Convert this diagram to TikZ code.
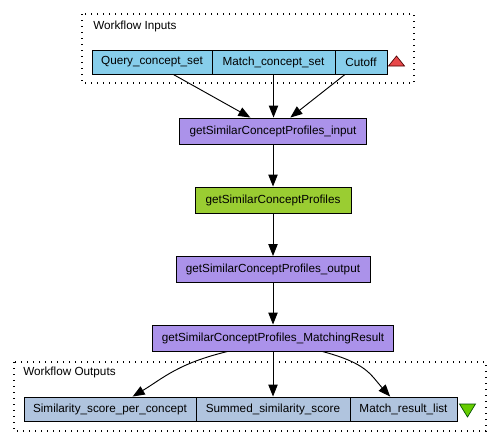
\documentclass[tikz,border=0pt]{standalone}
\usepackage{fontspec}
\setmainfont{Liberation Sans}
\usetikzlibrary{arrows.meta}

\definecolor{inportcol}{HTML}{87CEEB}
\definecolor{outportcol}{HTML}{B0C4DE}
\definecolor{splittercol}{HTML}{AB92EA}
\definecolor{wsdlcol}{HTML}{9ACD32}
\definecolor{uptri}{HTML}{E8484A}
\definecolor{downtri}{HTML}{66CD00}

\tikzset{
  box/.style={draw=black, line width=0.7pt, inner sep=0pt, minimum height=18pt, font=\fontsize{8.8}{10}\selectfont},
  inport/.style={box, fill=inportcol},
  outport/.style={box, fill=outportcol},
  splitter/.style={box, fill=splittercol, minimum height=19.5pt},
  wsdl/.style={box, fill=wsdlcol, minimum height=19.5pt},
  portgroup/.style={draw=black, line width=0.9pt, dash pattern=on 1.1pt off 3.4pt},
  flow/.style={draw=black, line width=0.7pt, -{Triangle[length=9pt,width=7pt]}}
}

\begin{document}
\begin{tikzpicture}[x=0.75pt,y=0.75pt,yscale=-1,xscale=1]
\useasboundingbox (0,0) rectangle (500,446);

%Workflow inputs
\draw [portgroup] (82,14) rectangle (414,83);
\node [anchor=west, inner sep=0pt, font=\fontsize{8.8}{10}\selectfont] (inlabel) at (93,26) {Workflow Inputs};
\node [inport, minimum width=90pt] (qset) at (152,62) {Query\_concept\_set};
\node [inport, minimum width=92.25pt] (mset) at (273.5,62) {Match\_concept\_set};
\node [inport, minimum width=39pt] (cutoff) at (361,62) {Cutoff};
\filldraw [fill=uptri, draw=black!70!red, line width=0.5pt] (388.5,66) -- (396.5,56) -- (404.5,66) -- cycle;

%Services
\node [splitter, minimum width=140.25pt] (sinput) at (273,131) {getSimilarConceptProfiles\_input};
\node [wsdl, minimum width=117pt] (gscp) at (273,200) {getSimilarConceptProfiles};
\node [splitter, minimum width=145.5pt] (soutput) at (273,269.5) {getSimilarConceptProfiles\_output};
\node [splitter, minimum width=180.75pt] (mres) at (273,338) {getSimilarConceptProfiles\_MatchingResult};

%Workflow outputs
\draw [portgroup] (14,362) rectangle (486,431);
\node [anchor=west, inner sep=0pt, font=\fontsize{8.8}{10}\selectfont] (outlabel) at (23,372) {Workflow Outputs};
\node [outport, minimum width=129pt] (simscore) at (110,409) {Similarity\_score\_per\_concept};
\node [outport, minimum width=115.5pt] (sumscore) at (273,409) {Summed\_similarity\_score};
\node [outport, minimum width=80.25pt] (mlist) at (403.5,409) {Match\_result\_list};
\filldraw [fill=downtri, draw=black!70!green, line width=0.5pt] (459.5,404) -- (475.5,404) -- (467.5,417) -- cycle;

%Links
\draw [flow] ([xshift=16pt]qset.south) -- ([xshift=-17pt]sinput.north);
\draw [flow] (mset.south) -- (mset.south |- sinput.north);
\draw [flow] ([xshift=-12pt]cutoff.south) -- ([xshift=13pt]sinput.north);
\draw [flow] (sinput) -- (gscp);
\draw [flow] (gscp) -- (soutput);
\draw [flow] (soutput) -- (mres);
\draw [flow] ([xshift=-34pt]mres.south) .. controls +(-50,12) and +(30,-18) .. ([xshift=17pt]simscore.north);
\draw [flow] (mres.south -| sumscore.north) -- (sumscore.north);
\draw [flow] ([xshift=37pt]mres.south) .. controls +(45,12) and +(-20,-22) .. ([xshift=-10pt]mlist.north);
\end{tikzpicture}
\end{document}
